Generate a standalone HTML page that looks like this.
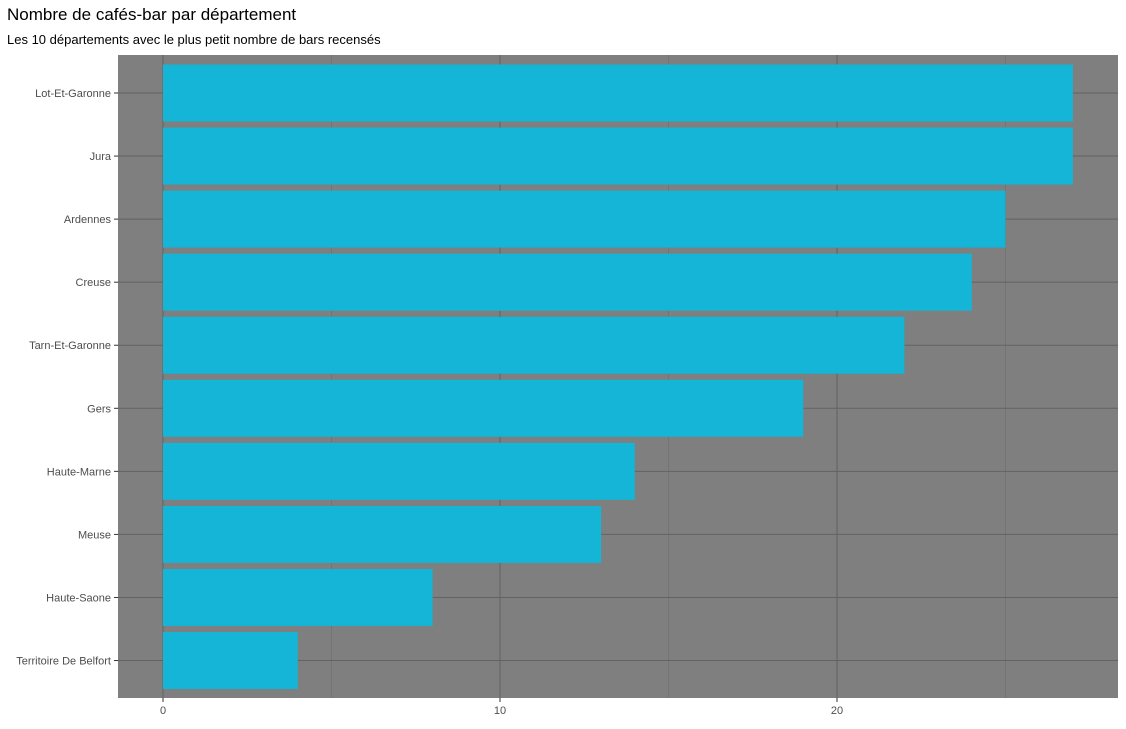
<!DOCTYPE html>
<html><head><meta charset="utf-8"><style>
body{margin:0;background:#fff;font-family:"Liberation Sans",sans-serif;}
</style></head><body>
<svg width="1126" height="724" xmlns="http://www.w3.org/2000/svg">
<text x="7" y="20" font-size="17" fill="#000">Nombre de cafés-bar par département</text>
<text x="7" y="44" font-size="13" fill="#000">Les 10 départements avec le plus petit nombre de bars recensés</text>
<rect x="118" y="55" width="1000" height="643" fill="#7f7f7f"/>
<g id="grid"></g><g id="bars"></g><g id="yaxis"></g><g id="xaxis"></g>
</svg>
<script>
const categories=["Lot-Et-Garonne","Jura","Ardennes","Creuse","Tarn-Et-Garonne","Gers","Haute-Marne","Meuse","Haute-Saone","Territoire De Belfort"];
const values=[27,27,25,24,22,19,14,13,8,4];
const xTicks=[0,10,20];
const xMinor=[5,15,25];
const NS="http://www.w3.org/2000/svg";
const x=v=>163+v*33.7;
const y=i=>93+i*63.06;
function mk(t,a,p){const e=document.createElementNS(NS,t);for(const k in a)e.setAttribute(k,a[k]);p.appendChild(e);return e;}
const grid=document.getElementById('grid'),bars=document.getElementById('bars'),ya=document.getElementById('yaxis'),xa=document.getElementById('xaxis');
xMinor.forEach(v=>{const l=mk('line',{x1:x(v),x2:x(v),y1:55,y2:698,stroke:'#6e6e6e','stroke-width':0.6},grid);

});
xTicks.forEach(v=>{const l=mk('line',{x1:x(v),x2:x(v),y1:55,y2:698,stroke:'#626262','stroke-width':1},grid);


const t=mk('line',{x1:x(v),x2:x(v),y1:698,y2:702,stroke:'#333','stroke-width':1},xa);


const tx=mk('text',{x:x(v),y:714,'font-size':11,fill:'#4d4d4d','text-anchor':'middle'},xa);tx.textContent=v;

});
categories.forEach((c,i)=>{const l=mk('line',{x1:118,x2:1118,y1:y(i),y2:y(i),stroke:'#626262','stroke-width':1},grid);


const b=mk('rect',{x:x(0),y:y(i)-28.5,width:x(values[i])-x(0),height:57,fill:'#14b5d6'},bars);


const t=mk('line',{x1:114,x2:118,y1:y(i),y2:y(i),stroke:'#333','stroke-width':1},ya);


const tx=mk('text',{x:111,y:y(i)+4,'font-size':11,fill:'#4d4d4d','text-anchor':'end'},ya);tx.textContent=c;

});
</script>
</body></html>
